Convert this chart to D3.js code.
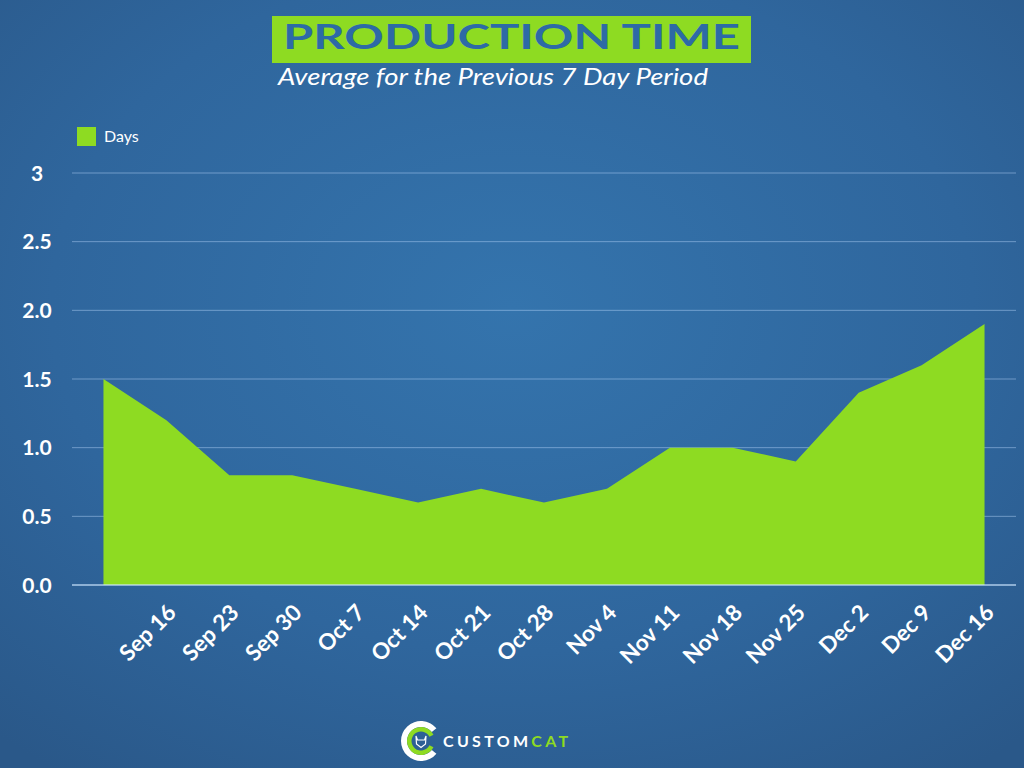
<!DOCTYPE html>
<html>
<head>
<meta charset="utf-8">
<script src="https://cdn.jsdelivr.net/npm/d3@7"></script>
<style>
  html, body { margin: 0; padding: 0; background: #2e6399; }
  svg { display: block; }
</style>
</head>
<body>
<svg id="chart" width="1024" height="768"></svg>
<script>
// ---- data ----
const weekLabels = ["", "Sep 16", "Sep 23", "Sep 30", "Oct 7", "Oct 14", "Oct 21", "Oct 28",
                    "Nov 4", "Nov 11", "Nov 18", "Nov 25", "Dec 2", "Dec 9", "Dec 16"];
const daysValues = [1.5, 1.2, 0.8, 0.8, 0.7, 0.6, 0.7, 0.6, 0.7, 1.0, 1.0, 0.9, 1.4, 1.6, 1.9];
const yTickValues = [0, 0.5, 1.0, 1.5, 2.0, 2.5, 3];
const yTickLabels = ["0.0", "0.5", "1.0", "1.5", "2.0", "2.5", "3"];
const seriesName = "Days";
const titleText = "PRODUCTION TIME";
const subtitleText = "Average for the Previous 7 Day Period";

// ---- setup ----
const W = 1024, H = 768;
const green = "#8edb22";
const svg = d3.select("#chart");

const defs = svg.append("defs");
const grad = defs.append("radialGradient").attr("id", "bg")
  .attr("cx", "0.5").attr("cy", "0.4").attr("r", "0.75");
grad.append("stop").attr("offset", "0").attr("stop-color", "#3474ad");
grad.append("stop").attr("offset", "0.6").attr("stop-color", "#2f669d");
grad.append("stop").attr("offset", "1").attr("stop-color", "#2a5889");
svg.append("rect").attr("width", W).attr("height", H).attr("fill", "url(#bg)");

const x = d3.scalePoint().domain(d3.range(weekLabels.length)).range([72, 1016]).padding(0.5);
const y = d3.scaleLinear().domain([0, 3]).range([585, 173]);

// gridlines
svg.append("g").selectAll("line").data(yTickValues.filter(v => v > 0)).join("line")
  .attr("x1", 72).attr("x2", 1016)
  .attr("y1", d => y(d)).attr("y2", d => y(d))
  .attr("stroke", "rgba(190,220,255,0.45)").attr("stroke-width", 1);

// area
const area = d3.area()
  .x((d, i) => x(i))
  .y0(y(0))
  .y1(d => y(d));
svg.append("path").datum(daysValues)
  .attr("d", area)
  .attr("fill", green);

// baseline
svg.append("line")
  .attr("x1", 72).attr("x2", 1016).attr("y1", y(0)).attr("y2", y(0))
  .attr("stroke", "rgba(205,230,255,0.8)").attr("stroke-width", 1.5);

// y labels
svg.append("g").selectAll("text").data(yTickValues).join("text")
  .attr("x", 37).attr("y", d => y(d))
  .attr("dy", "0.36em")
  .attr("text-anchor", "middle")
  .attr("font-family", "Lato, sans-serif").attr("font-weight", 700)
  .attr("font-size", 21).attr("fill", "#ffffff")
  .text((d, i) => yTickLabels[i]);

// x labels
svg.append("g").selectAll("text").data(weekLabels).join("text")
  .attr("transform", (d, i) => `translate(${x(i) + 11},${y(0) + 29}) rotate(-45)`)
  .attr("text-anchor", "end")
  .attr("font-family", "Lato, sans-serif").attr("font-weight", 700)
  .attr("font-size", 22.5).attr("fill", "#ffffff")
  .text(d => d);

// legend
svg.append("rect").attr("x", 77).attr("y", 127).attr("width", 19).attr("height", 19).attr("fill", green);
svg.append("text").attr("x", 104).attr("y", 142)
  .attr("font-family", "Lato, sans-serif").attr("font-size", 16).attr("fill", "#ffffff")
  .text(seriesName);

// title
svg.append("rect").attr("x", 272).attr("y", 16).attr("width", 479).attr("height", 47).attr("fill", green);
svg.append("text").attr("x", 283).attr("y", 49)
  .attr("font-family", "Lato, sans-serif").attr("font-weight", 700)
  .attr("font-size", 35).attr("fill", "#2d6aa6")
  .attr("textLength", 457).attr("lengthAdjust", "spacingAndGlyphs")
  .text(titleText);
svg.append("text").attr("x", 278).attr("y", 85)
  .attr("font-family", "Lato, sans-serif").attr("font-style", "italic")
  .attr("font-size", 23).attr("fill", "#ffffff")
  .attr("textLength", 430).attr("lengthAdjust", "spacingAndGlyphs")
  .text(subtitleText);

// logo
const logo = svg.append("g").attr("transform", "translate(421,741)");
const arcW = d3.arc().innerRadius(14).outerRadius(20).startAngle(Math.PI * 0.72).endAngle(Math.PI * 2.28);
logo.append("path").attr("d", arcW()).attr("fill", "#ffffff");
const arcG = d3.arc().innerRadius(9.5).outerRadius(14).startAngle(Math.PI * 0.65).endAngle(Math.PI * 2.35);
logo.append("path").attr("d", arcG()).attr("fill", green);
logo.append("path").attr("d", "M-5,-5 L-3.5,-1 L3.5,-1 L5,-5 L4.5,3 L0,6.5 L-4.5,3 Z")
  .attr("fill", "none").attr("stroke", "#ffffff").attr("stroke-width", 1.2);
const logoText = svg.append("text").attr("x", 443).attr("y", 747)
  .attr("font-family", "Lato, sans-serif").attr("font-weight", 700)
  .attr("font-size", 16).attr("letter-spacing", 3.3);
logoText.append("tspan").attr("fill", "#ffffff").text("CUSTOM");
logoText.append("tspan").attr("fill", green).text("CAT");
</script>
</body>
</html>
